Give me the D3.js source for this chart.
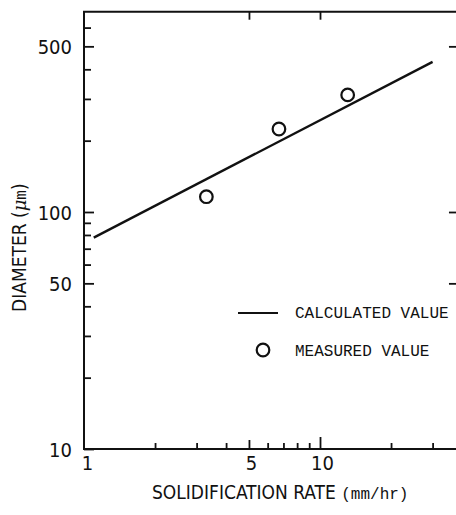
<!DOCTYPE html>
<html><head><meta charset="utf-8">
<script src="https://cdn.jsdelivr.net/npm/d3@7"></script>
<style>
body{margin:0;background:#fff;}
svg{display:block;}
.sans{font-family:"DejaVu Sans Condensed","Liberation Sans Narrow",sans-serif;font-stretch:condensed;}
.mono{font-family:"Liberation Mono","Courier New",monospace;}
</style></head>
<body>
<svg id="c" width="456" height="515"></svg>
<script>
// ---- data ----
const yMajor = [10, 50, 100, 500];
const yMinor = [20, 30, 40, 60, 70, 80, 90, 200, 300, 400, 600];
const xLabeled = [1, 5, 10];
const xMinor = [2, 3, 4, 6, 7, 8, 9, 20, 30];
const calcRate = [1.1, 30];
const calcDiameter = [78, 430];
const measRate = [3.3, 6.7, 13.1];
const measDiameter = [116, 224, 312];
const xMax = 38.8, yMax = 700;

const svg = d3.select("#c");
const x = d3.scaleLog().domain([1, 10]).range([84, 320]);
const y = d3.scaleLog().domain([10, 100]).range([449, 212]);
const X0 = x(1), X1 = x(xMax), Y0 = y(10), Y1 = y(yMax);

const ink = "#111";
// frame
svg.append("path")
  .attr("d", `M${X0},${Y1}L${X1},${Y1}L${X1},${Y0}L${X0},${Y0}Z`)
  .attr("fill", "none").attr("stroke", ink).attr("stroke-width", 2);

function style(g){ g.select(".domain").remove(); g.selectAll("line").attr("stroke", ink).attr("stroke-width", 1.8); }

// left axis major
svg.append("g").attr("transform", `translate(${X0},0)`)
  .call(d3.axisLeft(y).tickValues(yMajor).tickSize(-10).tickPadding(12).tickFormat(d3.format("d")))
  .call(style)
  .call(g => g.selectAll("text").attr("class", "sans").attr("font-size", 20).attr("fill", ink).attr("dy", "0.36em"));
// left axis minor
svg.append("g").attr("transform", `translate(${X0},0)`)
  .call(d3.axisLeft(y).tickValues(yMinor).tickSize(-7).tickFormat(""))
  .call(style);
// right axis ticks
svg.append("g").attr("transform", `translate(${X1},0)`)
  .call(d3.axisRight(y).tickValues([50, 100, 500]).tickSize(-10).tickFormat(""))
  .call(style);

// bottom axis
svg.append("g").attr("transform", `translate(0,${Y0})`)
  .call(d3.axisBottom(x).tickValues(xMinor).tickSize(-6).tickFormat(""))
  .call(style);
svg.append("g").attr("transform", `translate(0,${Y0})`)
  .call(d3.axisBottom(x).tickValues([5]).tickSize(-9).tickFormat(""))
  .call(style);
svg.append("g").attr("transform", `translate(0,${Y0})`)
  .call(d3.axisBottom(x).tickValues([10]).tickSize(-12).tickFormat(""))
  .call(style);
svg.append("g").attr("transform", `translate(0,${Y0})`)
  .call(d3.axisBottom(x).tickValues(xLabeled).tickSize(0).tickPadding(7).tickFormat(d3.format("d")))
  .call(style)
  .call(g => g.selectAll("text").attr("class", "sans").attr("font-size", 20).attr("fill", ink)
    .attr("dx", d => d === 1 ? 3 : 2));
// top axis ticks
svg.append("g").attr("transform", `translate(0,${Y1})`)
  .call(d3.axisTop(x).tickValues([5, 10]).tickSize(-8).tickFormat(""))
  .call(style);

// calculated line
const line = d3.line().x(d => x(d[0])).y(d => y(d[1]));
svg.append("path").datum(calcRate.map((r, i) => [r, calcDiameter[i]]))
  .attr("d", line).attr("fill", "none").attr("stroke", ink).attr("stroke-width", 2.4);

// measured points
svg.selectAll("circle.m").data(measRate.map((r, i) => [r, measDiameter[i]]))
  .enter().append("circle").attr("class", "m")
  .attr("cx", d => x(d[0])).attr("cy", d => y(d[1])).attr("r", 6.3)
  .attr("fill", "none").attr("stroke", ink).attr("stroke-width", 2.2);

// legend
svg.append("line").attr("x1", 238).attr("x2", 278).attr("y1", 313).attr("y2", 313)
  .attr("stroke", ink).attr("stroke-width", 2);
svg.append("text").attr("class", "mono").attr("x", 295).attr("y", 318).attr("font-size", 16)
  .attr("fill", ink).text("CALCULATED VALUE");
svg.append("circle").attr("cx", 263).attr("cy", 350).attr("r", 6.3)
  .attr("fill", "none").attr("stroke", ink).attr("stroke-width", 2.2);
svg.append("text").attr("class", "mono").attr("x", 295).attr("y", 356).attr("font-size", 16)
  .attr("fill", ink).text("MEASURED VALUE");

// axis titles
const xt = svg.append("text").attr("x", 152).attr("y", 499).attr("fill", ink);
xt.append("tspan").attr("class", "sans").attr("font-size", 19).text("SOLIDIFICATION RATE ");
xt.append("tspan").attr("class", "mono").attr("font-size", 16).text("(mm/hr)");

const yt = svg.append("text").attr("transform", "translate(26,312) rotate(-90)").attr("fill", ink);
yt.append("tspan").attr("class", "sans").attr("font-size", 19).text("DIAMETER (");
yt.append("tspan").attr("font-family", "'DejaVu Serif',serif").attr("font-style", "italic").attr("font-size", 18).text("μ");
yt.append("tspan").attr("class", "mono").attr("font-size", 16).text("m");
yt.append("tspan").attr("class", "sans").attr("font-size", 19).text(")");
</script>
</body></html>
